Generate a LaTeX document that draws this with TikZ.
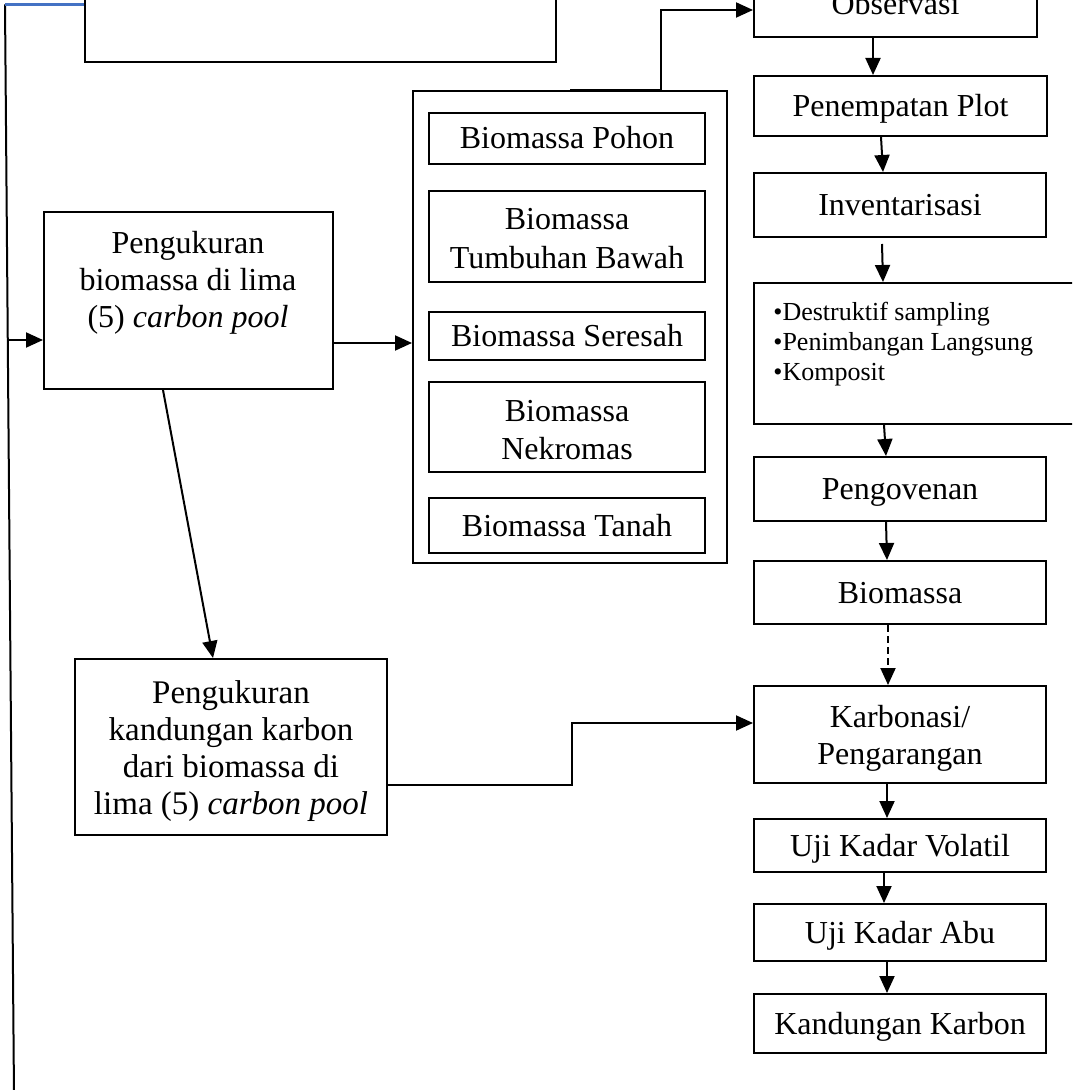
\documentclass[tikz,border=0pt]{standalone}
\usepackage{fontspec}
\setmainfont{Liberation Serif}
\usetikzlibrary{arrows.meta,calc}
\definecolor{wordblue}{RGB}{68,114,196}
\tikzset{
  box/.style={draw, line width=1pt, rectangle, inner sep=0pt, text height=10.5pt, text depth=0pt, font=\fontsize{16}{18.5}\selectfont},
  txt/.style={inner sep=0pt, align=center, anchor=north, font=\fontsize{16}{18.5}\selectfont},
  arr/.style={line width=1pt, -{Triangle[length=8.5pt,width=7.5pt]}},
}
\begin{document}
\begin{tikzpicture}[x=0.5pt,y=-0.5pt]
\useasboundingbox (0,0) rectangle (1072,1090);
\fill[white] (0,0) rectangle (1072,1090);
\clip (0,0) rectangle (1072,1090);

% top-left and left column
\node[box, minimum width=235.5pt, minimum height=51pt] (topbox) at (320.5,11) {};
\node[box, minimum width=144.5pt, minimum height=88.5pt] (pb) at (188.5,300.5) {};
\node[txt] (pbt) at (188,231) {Pengukuran\\biomassa di lima\\(5) \textit{carbon pool}};
\node[box, minimum width=156pt, minimum height=88pt] (kc) at (231,747) {};
\node[txt, font=\fontsize{16.5}{18.5}\selectfont] (kct) at (231,680) {Pengukuran\\kandungan karbon\\dari biomassa di\\lima (5) \textit{carbon pool}};

% group of carbon pools
\node[box, minimum width=157pt, minimum height=236pt] (grp) at (570,327) {};
\node[box, minimum width=138pt, minimum height=25.5pt, text depth=-4pt] (pohon) at (567,138.5) {Biomassa Pohon};
\node[box, minimum width=138pt, minimum height=45.5pt] (tumb) at (567,236.5) {};
\node[txt, font=\fontsize{16}{19.5}\selectfont] (tumbt) at (567,208) {Biomassa\\Tumbuhan Bawah};
\node[box, minimum width=138pt, minimum height=24pt, text depth=-5.5pt] (ser) at (567,336) {Biomassa Seresah};
\node[box, minimum width=138pt, minimum height=45pt] (nek) at (567,427) {};
\node[txt, font=\fontsize{16}{19}\selectfont] (nekt) at (567,400) {Biomassa\\Nekromas};
\node[box, minimum width=138pt, minimum height=27.5pt] (tanah) at (567,525.5) {Biomassa Tanah};

% right column
\node[box, minimum width=141.5pt, minimum height=32.5pt] (obs) at (895.5,4.5) {Observasi};
\node[box, minimum width=146.5pt, minimum height=30pt] (pp) at (900.5,106) {Penempatan Plot};
\node[box, minimum width=146pt, minimum height=32pt] (inv) at (900,205) {Inventarisasi};
\node[box, minimum width=168pt, minimum height=70.5pt] (bul) at (922,353.5) {};
\node[inner sep=0pt, anchor=north west, align=left, font=\fontsize{13}{15}\selectfont] (bult) at (773,302) {\textbullet Destruktif sampling\\\textbullet Penimbangan Langsung\\\textbullet Komposit};
\node[box, minimum width=146pt, minimum height=32pt] (pov) at (900,489) {Pengovenan};
\node[box, minimum width=146pt, minimum height=31.5pt] (bio) at (900,592.5) {Biomassa};
\node[box, minimum width=146pt, minimum height=48.5pt] (karb) at (900,734.5) {};
\node[txt] (karbt) at (900,705) {Karbonasi/\\Pengarangan};
\node[box, minimum width=146pt, minimum height=26.5pt, text depth=-4pt] (vol) at (900,845.5) {Uji Kadar Volatil};
\node[box, minimum width=146pt, minimum height=28.5pt] (abu) at (900,932.5) {Uji Kadar Abu};
\node[box, minimum width=146pt, minimum height=29.5pt] (kk) at (900,1023.5) {Kandungan Karbon};

% long left line and blue link
\coordinate (lt) at (5,4.5);
\coordinate (lb) at (14,1095);
\draw[line width=1pt] (lt) -- (lb);
\draw[wordblue, line width=1.25pt] (lt) -- (topbox.west |- lt);
\coordinate (lj) at (7.8,340);
\draw[arr] (lj) -- (pb.west |- lj);

% helper coordinates
\coordinate (y343) at (0,343);
\coordinate (y10) at (0,10);
\coordinate (y785) at (0,785);
\coordinate (y723) at (0,723);
\coordinate (x873) at (873,0);
\coordinate (x881) at (881,0);
\coordinate (x883) at (883,0);
\coordinate (x884) at (884,0);
\coordinate (x886) at (886,0);
\coordinate (x887) at (887,0);
\coordinate (x888) at (888,0);
\coordinate (invout) at (882,244);

% connectors left part
\draw[arr] (pb.east |- y343) -- (grp.west |- y343);
\draw[arr] ([xshift=-12.75pt]pb.south) -- ([xshift=-9pt]kc.north);
\draw[arr] (grp.north) -- (661,90) |- (obs.west |- y10);
\draw[arr] (kc.east |- y785) -- (572,785) |- (karb.west |- y723);

% right column connectors
\draw[arr] (obs.south -| x873) -- (pp.north -| x873);
\draw[arr] (pp.south -| x881) -- (inv.north -| x883);
\draw[arr] (invout) -- (bul.north -| x883);
\draw[arr] (bul.south -| x884) -- (pov.north -| x886);
\draw[arr] (pov.south -| x886) -- (bio.north -| x887);
\draw[arr, dash pattern=on 3.5pt off 2pt] (bio.south -| x888) -- (karb.north -| x888);
\draw[arr] (karb.south -| x887) -- (vol.north -| x887);
\draw[arr] (vol.south -| x884) -- (abu.north -| x884);
\draw[arr] (abu.south -| x887) -- (kk.north -| x887);
\end{tikzpicture}
\end{document}
